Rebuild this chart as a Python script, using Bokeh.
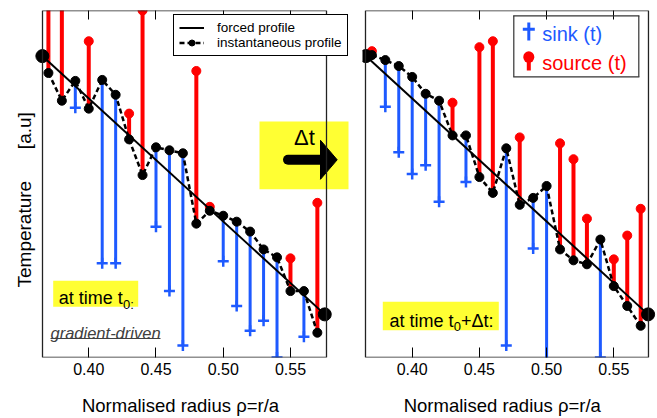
from bokeh.plotting import figure
from bokeh.models import (Range1d, LinearAxis, FixedTicker, Legend, LegendItem, Label,
                          BoxAnnotation, Arrow, PolyAnnotation, NumeralTickFormatter,
                          ColumnDataSource)
from bokeh.layouts import row
from bokeh.embed import file_html
from bokeh.resources import INLINE

# ---------------- data (arbitrary temperature units) ----------------
rho = [0.37, 0.38, 0.39, 0.40, 0.41, 0.42, 0.43, 0.44, 0.45, 0.46, 0.47,
       0.48, 0.49, 0.50, 0.51, 0.52, 0.53, 0.54, 0.55, 0.56, 0.57]

# time t0 : instantaneous profile and end of source/sink stems
T_t0 = [287, 259, 279, 251, 280, 265, 220, 184, 212, 209, 206,
        135, 148, 143, 137, 127, 109, 101, 67, 67, 25]
S_t0 = [372, 372, 252, 319, 95, 95, 246, 350, 132, 67, 12,
        289, 152, 97, 52, 27, 37, 0, 100, 21, 156]

# time t0 + dt
T_t1 = [305, 300, 294, 283, 266, 259, 224, 224, 182, 166, 211,
        154, 161, 173, 109, 98, 94, 119, 72, 52, 32]
S_t1 = [309, 253, 207, 185, 194, 157, 257, 177, 313, 319, 12,
        222, 110, -15, 216, 200, 140, 0, 99, 123, 150]

# forced (linear) profile
forced_rho = [0.3655, 0.5755]
forced_T = [304, 43.5]

xticks = [0.40, 0.45, 0.50, 0.55]

RED = "#FF0000"
BLUE = "#1E5AFF"
YELLOW = "#FFFF33"
FONT = "Liberation Sans"
NB = "\u00a0"


def seg(p, x0, y0, x1, y1, color, width, cap="butt"):
    p.add_layout(Arrow(start=None, end=None, x_start=x0, y_start=y0, x_end=x1, y_end=y1,
                       start_units="screen", end_units="screen",
                       line_color=color, line_width=width, line_cap=cap))


def label(p, x, y, text, size, color="black", style="normal", align="left",
          baseline="alphabetic"):
    p.add_layout(Label(x=x, y=y, x_units="screen", y_units="screen", text=text,
                       text_font=FONT, text_font_size=size, text_color=color,
                       text_font_style=style, text_align=align, text_baseline=baseline))


def ybox(p, l, r, b, t, color=YELLOW):
    p.add_layout(BoxAnnotation(left=l, right=r, bottom=b, top=t,
                               left_units="screen", right_units="screen",
                               bottom_units="screen", top_units="screen",
                               fill_color=color, fill_alpha=1, line_color=None))


def panel(T, S, width, xr, mbl, ylabel, xlabel):
    p = figure(width=width, height=418, x_range=Range1d(*xr), y_range=Range1d(0, 350),
               output_backend="svg", toolbar_location=None,
               min_border_left=mbl, min_border_right=0, min_border_top=10,
               min_border_bottom=58, y_axis_location="left" if ylabel else None)
    p.grid.visible = False
    p.outline_line_color = None
    p.background_fill_color = "white"
    p.border_fill_color = "white"

    ax = p.below[0]
    ax.ticker = FixedTicker(ticks=xticks)
    ax.formatter = NumeralTickFormatter(format="0.00")
    ax.major_tick_in = 10
    ax.major_tick_out = 0
    ax.minor_tick_line_color = None
    ax.axis_line_color = None
    ax.major_tick_line_color = "black"
    ax.major_label_text_font = FONT
    ax.major_label_text_font_size = "16px"
    ax.major_label_text_color = "black"
    ax.major_label_standoff = 5
    ax.axis_label = xlabel
    ax.axis_label_text_font = FONT
    ax.axis_label_text_font_size = "18.5px"
    ax.axis_label_text_font_style = "normal"
    ax.axis_label_text_color = "black"
    ax.axis_label_standoff = 17

    top = LinearAxis(ticker=FixedTicker(ticks=xticks), major_tick_in=9, major_tick_out=0,
                     minor_tick_line_color=None, axis_line_color=None,
                     major_label_text_font_size="0px", major_label_text_color=None,
                     major_label_standoff=0)
    p.add_layout(top, "above")

    if ylabel:
        ya = p.left[0]
        ya.ticker = FixedTicker(ticks=[])
        ya.major_tick_out = 0
        ya.major_tick_in = 0
        ya.minor_tick_line_color = None
        ya.axis_line_color = None
        ya.major_label_standoff = 0
        ya.major_label_text_color = None
        ya.axis_label = ylabel
        ya.axis_label_text_font = FONT
        ya.axis_label_text_font_size = "19px"
        ya.axis_label_text_font_style = "normal"
        ya.axis_label_text_color = "black"
        ya.axis_label_standoff = 0

    src = ColumnDataSource(dict(x=[r for r, t, s in zip(rho, T, S) if s > t],
                                y0=[t for r, t, s in zip(rho, T, S) if s > t],
                                y1=[s for r, t, s in zip(rho, T, S) if s > t]))
    snk = ColumnDataSource(dict(x=[r for r, t, s in zip(rho, T, S) if s <= t],
                                y0=[t for r, t, s in zip(rho, T, S) if s <= t],
                                y1=[s for r, t, s in zip(rho, T, S) if s <= t]))
    p.segment("x", "y0", "x", "y1", source=snk, line_color=BLUE, line_width=3)
    p.scatter("x", "y1", source=snk, marker="cross", size=11, line_color=BLUE, line_width=2.5)
    p.segment("x", "y0", "x", "y1", source=src, line_color=RED, line_width=4)
    p.scatter("x", "y1", source=src, marker="circle", size=9, fill_color=RED, line_color=RED)

    fl = p.line(forced_rho, forced_T, line_color="black", line_width=2)
    dl = p.line(rho, T, line_color="black", line_width=2.5, line_dash="5 3")
    dots = p.scatter(rho, T, marker="circle", size=9, fill_color="black", line_color="black")
    p.scatter(forced_rho, forced_T, marker="circle", size=13, fill_color="black", line_color="black")
    return p, fl, dl, dots


ylab = "Temperature" + NB * 6 + "[a.u]" + NB * 6
xlab = "Normalised radius \u03c1=r/a"
# left panel: drawn box spans rho 0.3656..0.5768; frame extends into the gap
p1, fl, dl, dots = panel(T_t0, S_t0, 362, (0.35965, 0.60357), 34, ylab, xlab + NB * 7)
# right panel
p2, _, _, _ = panel(T_t1, S_t1, 295, (0.36302, 0.58251), 0, None, xlab + NB * 3)

# ---- left annotations ----
ybox(p1, 18.7, 103.7, 50.7, 76.7)
label(p1, 24.3, 59.3, "at time t", "18px")
label(p1, 88.5, 53.3, "0:", "13px")
label(p1, 16, 25, "gradient-driven", "16.5px", color="#404040", style="italic")
seg(p1, 16, 19, 126, 19, "#404040", 1.2)

# Δt box with arrow
ybox(p1, 225, 314, 168.3, 236)
label(p1, 270, 220, "\u0394t", "22px", align="center", baseline="middle")
seg(p1, 253.5, 197.7, 287, 197.7, "black", 10, cap="round")
p1.add_layout(PolyAnnotation(xs=[286, 302.7, 286], ys=[217.2, 197.7, 178.2],
                             xs_units="screen", ys_units="screen",
                             fill_color="black", fill_alpha=1, line_color="black",
                             line_alpha=1))

# panel frames (drawn boxes)
for p, (bl, br) in ((p1, (0.3656, 0.5768)), (p2, (0.36525, 0.5758))):
    p.add_layout(BoxAnnotation(left=bl, right=br, fill_color=None, fill_alpha=0,
                               line_color="#222222", line_alpha=1, line_width=1.3))

# ---- left legend ----
leg = Legend(items=[LegendItem(label="forced profile", renderers=[fl]),
                    LegendItem(label="instantaneous profile", renderers=[dl, dots])],
             location=(139, 301), label_text_font=FONT, label_text_font_size="13.5px",
             label_text_color="black", glyph_width=25, glyph_height=15, spacing=0,
             padding=5, margin=0, label_standoff=13, border_line_color="black",
             border_line_alpha=1, border_line_width=1, background_fill_color="white",
             background_fill_alpha=1)
p1.add_layout(leg)

# ---- right legend (drawn with annotations) ----
L, R, B, T = 151.3, 276.3, 280.7, 341.7
for (xa, ya, xb, yb) in ((L - 0.6, B, R + 0.6, B), (L - 0.6, T, R + 0.6, T),
                         (L, B, L, T), (R, B, R, T)):
    seg(p2, xa, ya, xb, yb, "#333333", 1.2)
seg(p2, 166.3, 335, 166.3, 317, BLUE, 3)
seg(p2, 160.3, 328.3, 172.3, 328.3, BLUE, 3)
seg(p2, 166.3, 300.7, 166.3, 287, RED, 4)
seg(p2, 166.3, 300.7, 166.3, 300.2, RED, 11, cap="round")
label(p2, 179.7, 323.3, "sink (t)", "20px", color=BLUE, baseline="middle")
label(p2, 179.7, 294.3, "source (t)", "20px", color=RED, baseline="middle")

# ---- right annotation ----
ybox(p2, 20.3, 136.3, 27.3, 55.7)
label(p2, 27, 36.7, "at time t", "18px")
label(p2, 91.2, 31, "0", "13px")
label(p2, 98.5, 36.7, "+\u0394t:", "18px")

layout = row(p1, p2)
open("out.html", "w").write(file_html(layout, INLINE))
